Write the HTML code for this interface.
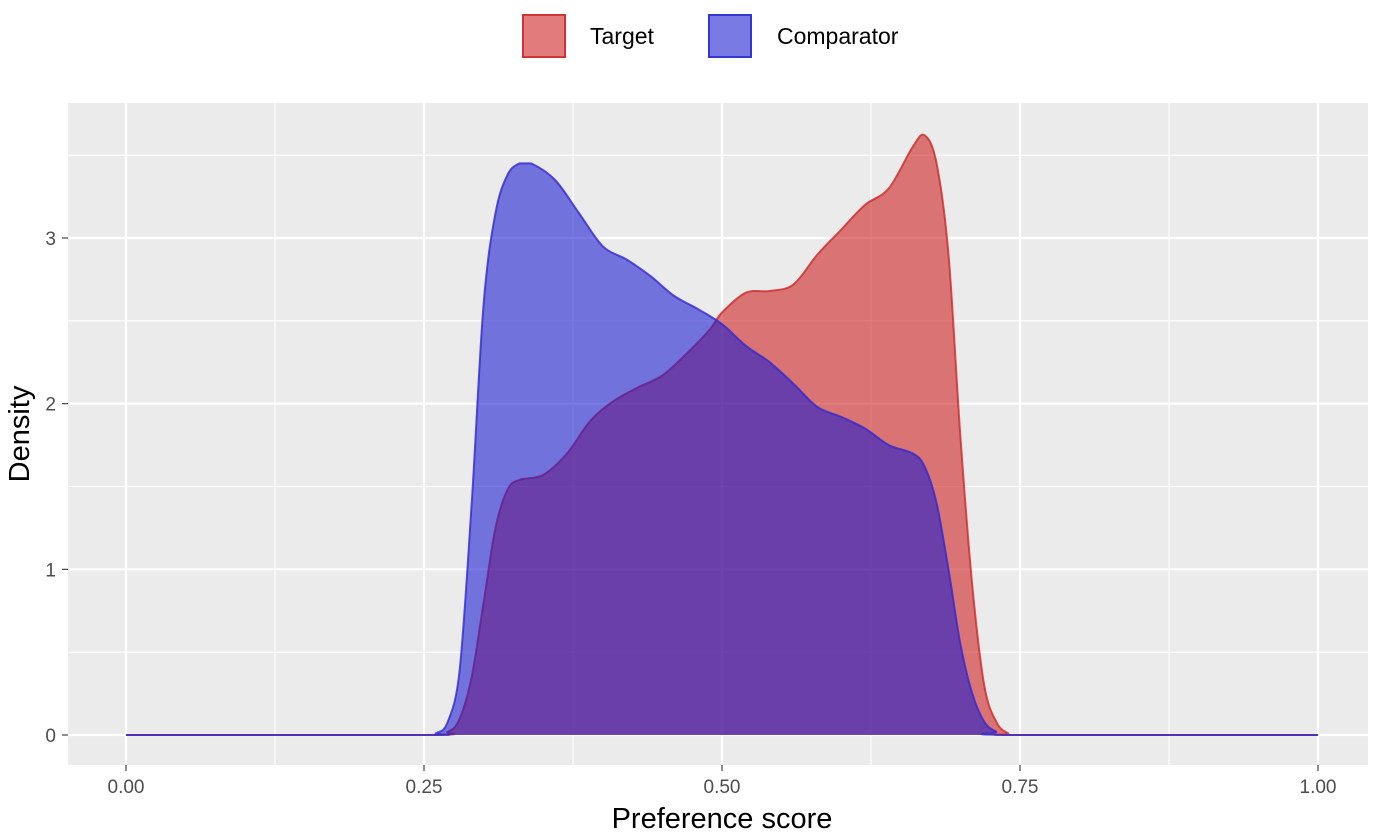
<!DOCTYPE html>
<html><head><meta charset="utf-8"><style>
body{margin:0;background:#fff;}
svg text{font-family:"Liberation Sans",Arial,sans-serif;}
</style></head><body>
<svg id="chart" width="1384" height="832" xmlns="http://www.w3.org/2000/svg">
<rect x="68" y="103" width="1300" height="662" fill="#EBEBEB"/>
<g id="grid"></g>
<g id="series"></g>
<g id="axes"></g>
<g>
<rect x="523" y="15" width="42" height="42" fill="rgba(205,30,30,0.58)" stroke="#D03535" stroke-width="2"/>
<text x="590" y="44" font-size="23" fill="#000">Target</text>
<rect x="709" y="15" width="42" height="42" fill="rgba(25,25,210,0.58)" stroke="#3535D0" stroke-width="2"/>
<text x="777" y="44" font-size="23" fill="#000">Comparator</text>
</g>
<text x="722" y="828" font-size="29" text-anchor="middle" fill="#000">Preference score</text>
<text x="0" y="0" font-size="29" text-anchor="middle" fill="#000" transform="translate(29,434) rotate(-90)">Density</text>
</svg>
<script>
const xTicks=[0,0.25,0.5,0.75,1];
const xTickLabels=["0.00","0.25","0.50","0.75","1.00"];
const yTicks=[0,1,2,3];
const yTickLabels=["0","1","2","3"];
const targetX=[0,0.25,0.27,0.28,0.29,0.30,0.31,0.32,0.33,0.35,0.37,0.39,0.41,0.43,0.45,0.47,0.49,0.50,0.52,0.54,0.56,0.58,0.60,0.62,0.64,0.66,0.67,0.68,0.69,0.70,0.71,0.72,0.73,0.74,0.75,1];
const targetY=[0,0,0.02,0.1,0.35,0.8,1.25,1.48,1.54,1.57,1.7,1.9,2.02,2.1,2.17,2.3,2.45,2.55,2.67,2.68,2.72,2.9,3.05,3.2,3.3,3.55,3.62,3.45,2.9,1.8,0.9,0.3,0.08,0.01,0,0];
const compX=[0,0.25,0.26,0.27,0.28,0.29,0.30,0.31,0.32,0.33,0.34,0.36,0.38,0.40,0.42,0.44,0.46,0.48,0.50,0.52,0.54,0.56,0.58,0.60,0.62,0.64,0.66,0.67,0.68,0.69,0.70,0.71,0.72,0.73,0.74,1];
const compY=[0,0,0.01,0.08,0.4,1.4,2.6,3.15,3.38,3.45,3.45,3.35,3.15,2.95,2.87,2.77,2.65,2.57,2.48,2.35,2.25,2.12,1.98,1.92,1.85,1.75,1.7,1.62,1.4,1.0,0.55,0.25,0.08,0.02,0,0];
const NS="http://www.w3.org/2000/svg";
const xs=v=>126+v*1192;
const ys=v=>735-v*165.67;
function mk(tag,attrs,parent){const e=document.createElementNS(NS,tag);for(const k in attrs)e.setAttribute(k,attrs[k]);parent.appendChild(e);return e;}
const grid=document.getElementById('grid'),axes=document.getElementById('axes'),series=document.getElementById('series');
for(let i=0;i<xTicks.length-1;i++){const m=(xTicks[i]+xTicks[i+1])/2;const l=mk('line',{x1:xs(m),x2:xs(m),y1:103,y2:765,stroke:'#fff','stroke-width':1.1},grid);

}
for(let i=0;i<yTicks.length;i++){const m=yTicks[i]+0.5;const l=mk('line',{x1:68,x2:1368,y1:ys(m),y2:ys(m),stroke:'#fff','stroke-width':1.1},grid);

}
xTicks.forEach((t,i)=>{const l=mk('line',{x1:xs(t),x2:xs(t),y1:103,y2:765,stroke:'#fff','stroke-width':2.2},grid);


const tk=mk('line',{x1:xs(t),x2:xs(t),y1:765,y2:771,stroke:'#333','stroke-width':1.1},axes);


const tx=mk('text',{x:xs(t),y:793,'font-size':19,'text-anchor':'middle',fill:'#4D4D4D'},axes);tx.textContent=xTickLabels[i];

});
yTicks.forEach((t,i)=>{const l=mk('line',{x1:68,x2:1368,y1:ys(t),y2:ys(t),stroke:'#fff','stroke-width':2.2},grid);


const tk=mk('line',{x1:62,x2:68,y1:ys(t),y2:ys(t),stroke:'#333','stroke-width':1.1},axes);


const tx=mk('text',{x:56,y:ys(t)+7,'font-size':19,'text-anchor':'end',fill:'#4D4D4D'},axes);tx.textContent=yTickLabels[i];

});
function smoothPath(P){
 let d='M'+P[0][0].toFixed(1)+','+P[0][1].toFixed(1);
 for(let i=0;i<P.length-1;i++){
  const p0=P[Math.max(0,i-1)],p1=P[i],p2=P[i+1],p3=P[Math.min(P.length-1,i+2)];
  let c1y=p1[1]+(p2[1]-p0[1])/6, c2y=p2[1]-(p3[1]-p1[1])/6;
  const lo=Math.min(p1[1],p2[1]),hi=Math.max(p1[1],p2[1]);
  if(p1[1]===p2[1]){c1y=p1[1];c2y=p2[1];}
  c1y=Math.min(Math.max(c1y,lo-8),hi+8);c2y=Math.min(Math.max(c2y,lo-8),hi+8);
  c1y=Math.min(c1y,735);c2y=Math.min(c2y,735);
  const c1x=p1[0]+(p2[0]-p0[0])/6, c2x=p2[0]-(p3[0]-p1[0])/6;
  d+=' C'+c1x.toFixed(1)+','+c1y.toFixed(1)+' '+c2x.toFixed(1)+','+c2y.toFixed(1)+' '+p2[0].toFixed(1)+','+p2[1].toFixed(1);
 }
 return d;
}
function area(X,Y,fill,stroke,name){
 const P=X.map((x,i)=>[xs(x),ys(Y[i])]);
 const line=smoothPath(P);
 const p=mk('path',{d:line+' L'+xs(X[X.length-1])+','+ys(0)+' L'+xs(X[0])+','+ys(0)+' Z',fill:fill,stroke:'none'},series);
 
 
 const q=mk('path',{d:line,fill:'none',stroke:stroke,'stroke-width':2,'stroke-linejoin':'round'},series);
 
 
}
area(targetX,targetY,'rgba(205,30,30,0.58)','rgba(205,40,40,0.8)','target-density');
area(compX,compY,'rgba(25,25,210,0.58)','rgba(50,40,210,0.8)','comparator-density');
</script>
</body></html>
